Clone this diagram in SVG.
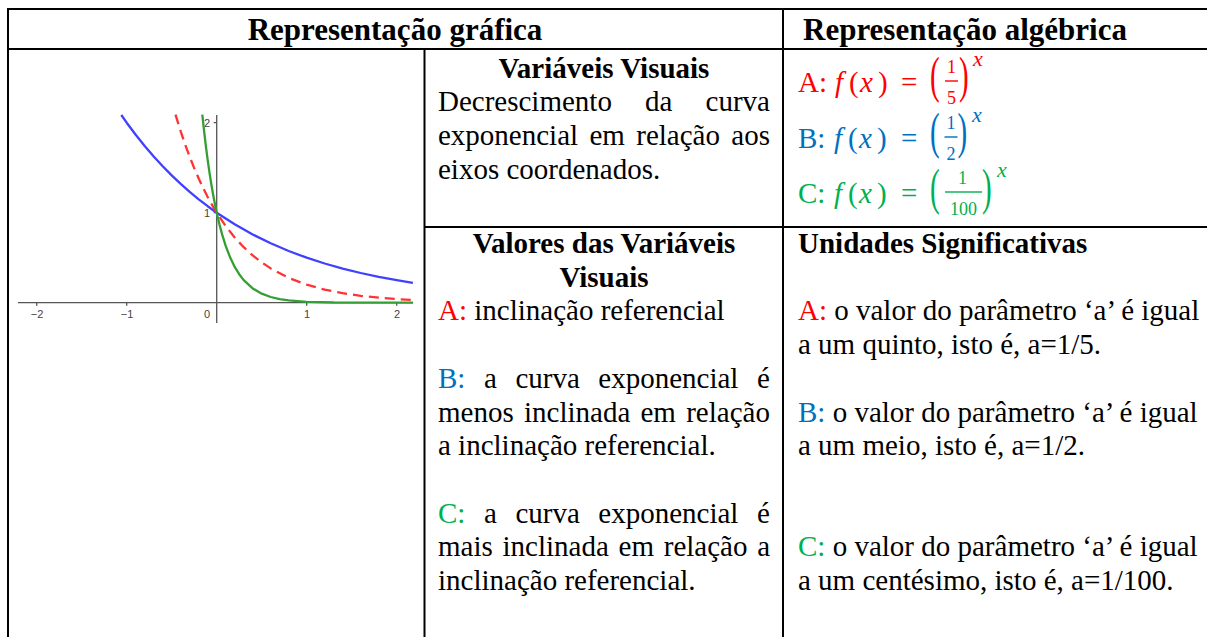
<svg xmlns="http://www.w3.org/2000/svg" width="1207" height="637" viewBox="0 0 1207 637">
<style>
.t{font-family:"Liberation Serif","Times New Roman",serif;font-size:29px;fill:#000}
.b{font-weight:bold}
.h{font-family:"Liberation Serif","Times New Roman",serif;font-size:31px;font-weight:bold;fill:#000}
.m{font-family:"Liberation Serif","Times New Roman",serif;font-size:29px;font-style:italic}
.fr{font-family:"Liberation Serif","Times New Roman",serif;font-size:18px}
.sup{font-family:"Liberation Serif","Times New Roman",serif;font-size:22px;font-style:italic}
.r{fill:#ff0000}.bl{fill:#0070c0}.g{fill:#00b050}
.ln{stroke:#000;stroke-width:2;fill:none}
.ax{stroke:#555;stroke-width:1.3;fill:none}
.lab{font-family:"Liberation Sans",Arial,sans-serif;font-size:11px;fill:#444}
.cv{fill:none;stroke-width:2.3;stroke-linejoin:round;stroke-linecap:butt}
</style>
<g id="table" class="ln">
<line x1="7" y1="9" x2="1207" y2="9"/>
<line x1="8" y1="8" x2="8" y2="637"/>
<line x1="7" y1="49" x2="1207" y2="49"/>
<line x1="424.5" y1="49" x2="424.5" y2="637"/>
<line x1="783" y1="8" x2="783" y2="637"/>
<line x1="424" y1="227" x2="1207" y2="227"/>
</g>
<g id="connectors"/>
<g id="header-grafica"><text class="h" x="395" y="40" text-anchor="middle">Representação gráfica</text></g>
<g id="header-algebrica"><text class="h" x="803" y="40">Representação algébrica</text></g>
<g id="graph">
<line class="ax" x1="18" y1="302.7" x2="413" y2="302.7"/>
<line class="ax" x1="216.7" y1="115" x2="216.7" y2="323"/>
<path class="ax" d="M36.7 302.7v3M126.7 302.7v3M306.7 302.7v3M396.7 302.7v3M216.7 212.7h-3M216.7 122.7h-3"/>
<text class="lab" x="37" y="318" text-anchor="middle">−2</text>
<text class="lab" x="127" y="318" text-anchor="middle">−1</text>
<text class="lab" x="207" y="318" text-anchor="middle">0</text>
<text class="lab" x="307" y="318" text-anchor="middle">1</text>
<text class="lab" x="397" y="318" text-anchor="middle">2</text>
<text class="lab" x="210" y="216.7" text-anchor="end">1</text>
<text class="lab" x="210" y="126.7" text-anchor="end">2</text>
<polyline class="cv" stroke="#4040ff" points="121.3,115 126.7,122.7 135.7,134.8 144.7,146 153.7,156.5 162.7,166.3 171.7,175.4 180.7,183.9 189.7,191.9 198.7,199.3 207.7,206.2 216.7,212.7 234.7,224.3 252.7,234.5 270.7,243.3 288.7,251 306.7,257.7 324.7,263.5 342.7,268.6 360.7,273 378.7,276.9 396.7,280.2 412.9,282.9"/>
<polyline class="cv" stroke="#ff3333" stroke-dasharray="10,6" points="175.5,114.6 180.7,131.4 185.2,144.6 189.7,156.8 194.2,168.1 198.7,178.5 203.2,188.1 207.7,197 212.2,205.2 216.7,212.7 225.7,226.1 234.7,237.5 243.7,247.2 252.7,255.4 261.7,262.4 270.7,268.4 288.7,277.9 306.7,284.7 324.7,289.7 342.7,293.2 360.7,295.8 378.7,297.7 396.7,299.1 412.9,300"/>
<polyline class="cv" stroke="#33a033" points="202.3,114.6 204.1,131.2 205.9,146.3 207.7,160.1 209.5,172.6 211.3,184.1 213.1,194.5 214.9,204 216.7,212.7 219.4,224.3 222.1,234.4 225.7,245.9 230.2,257.6 234.7,266.9 239.2,274.2 243.7,280.1 252.7,288.4 261.7,293.7 270.7,297 279.7,299.1 288.7,300.4 306.7,301.8 333.7,302.5 412.9,302.7"/>
</g>
<g id="variaveis-visuais">
<text class="t b" x="604" y="77.5" text-anchor="middle">Variáveis Visuais</text>
<text class="t" x="438" y="111.2" word-spacing="25.9">Decrescimento da curva</text>
<text class="t" x="438" y="145" word-spacing="4.1">exponencial em relação aos</text>
<text class="t" x="438" y="178.7">eixos coordenados.</text>
</g>
<g id="representacao-algebrica">
<text class="t r" x="798" y="92">A:</text>
<text class="m r" x="835" y="92">f</text>
<text class="t r" x="849" y="92">(</text>
<text class="m r" x="860" y="92">x</text>
<text class="t r" x="878" y="92">)</text>
<text class="t r" x="901" y="92">=</text>
<text class="t r" transform="translate(930,92.4) scale(1,1.72)">(</text>
<text class="fr r" x="951.5" y="73" text-anchor="middle">1</text>
<rect class="r" x="945" y="80.3" width="13" height="1.4"/>
<text class="fr r" x="951.5" y="103.5" text-anchor="middle">5</text>
<text class="t r" transform="translate(959,92.4) scale(1,1.72)">)</text>
<text class="sup r" x="973" y="66">x</text>

<text class="t bl" x="798" y="148">B:</text>
<text class="m bl" x="834" y="148">f</text>
<text class="t bl" x="848" y="148">(</text>
<text class="m bl" x="859" y="148">x</text>
<text class="t bl" x="877" y="148">)</text>
<text class="t bl" x="901" y="148">=</text>
<text class="t bl" transform="translate(930,148.4) scale(1,1.72)">(</text>
<text class="fr bl" x="951" y="129" text-anchor="middle">1</text>
<rect class="bl" x="944.5" y="136.3" width="13" height="1.4"/>
<text class="fr bl" x="951" y="159.5" text-anchor="middle">2</text>
<text class="t bl" transform="translate(957.5,148.4) scale(1,1.72)">)</text>
<text class="sup bl" x="972" y="122">x</text>

<text class="t g" x="798" y="203">C:</text>
<text class="m g" x="834" y="203">f</text>
<text class="t g" x="848" y="203">(</text>
<text class="m g" x="859" y="203">x</text>
<text class="t g" x="877" y="203">)</text>
<text class="t g" x="901" y="203">=</text>
<text class="t g" transform="translate(930,204) scale(1,1.72)">(</text>
<text class="fr g" x="962.5" y="184" text-anchor="middle">1</text>
<rect class="g" x="945" y="191.3" width="37" height="1.4"/>
<text class="fr g" x="963.5" y="214.5" text-anchor="middle">100</text>
<text class="t g" transform="translate(982,204) scale(1,1.72)">)</text>
<text class="sup g" x="997" y="177">x</text>
</g>
<g id="valores-variaveis">
<text class="t b" x="604" y="253" text-anchor="middle">Valores das Variáveis</text>
<text class="t b" x="604" y="286.7" text-anchor="middle">Visuais</text>
<text class="t" x="438" y="320.4"><tspan class="r">A:</tspan> inclinação referencial</text>
<text class="t" x="438" y="387.8" word-spacing="11.3"><tspan class="bl">B:</tspan> a curva exponencial é</text>
<text class="t" x="438" y="421.5" word-spacing="3">menos inclinada em relação</text>
<text class="t" x="438" y="455.2">a inclinação referencial.</text>
<text class="t" x="438" y="522.6" word-spacing="11.3"><tspan class="g">C:</tspan> a curva exponencial é</text>
<text class="t" x="438" y="556.3" word-spacing="2.5">mais inclinada em relação a</text>
<text class="t" x="438" y="590">inclinação referencial.</text>
</g>
<g id="unidades-significativas">
<text class="t b" x="798" y="253">Unidades Significativas</text>
<text class="t" x="798" y="320.4"><tspan class="r">A:</tspan> o valor do parâmetro ‘a’ é igual</text>
<text class="t" x="798" y="354.1">a um quinto, isto é, a=1/5.</text>
<text class="t" x="798" y="421.5"><tspan class="bl">B:</tspan> o valor do parâmetro ‘a’ é igual</text>
<text class="t" x="798" y="455.2">a um meio, isto é, a=1/2.</text>
<text class="t" x="798" y="556.3"><tspan class="g">C:</tspan> o valor do parâmetro ‘a’ é igual</text>
<text class="t" x="798" y="590">a um centésimo, isto é, a=1/100.</text>
</g>
</svg>
